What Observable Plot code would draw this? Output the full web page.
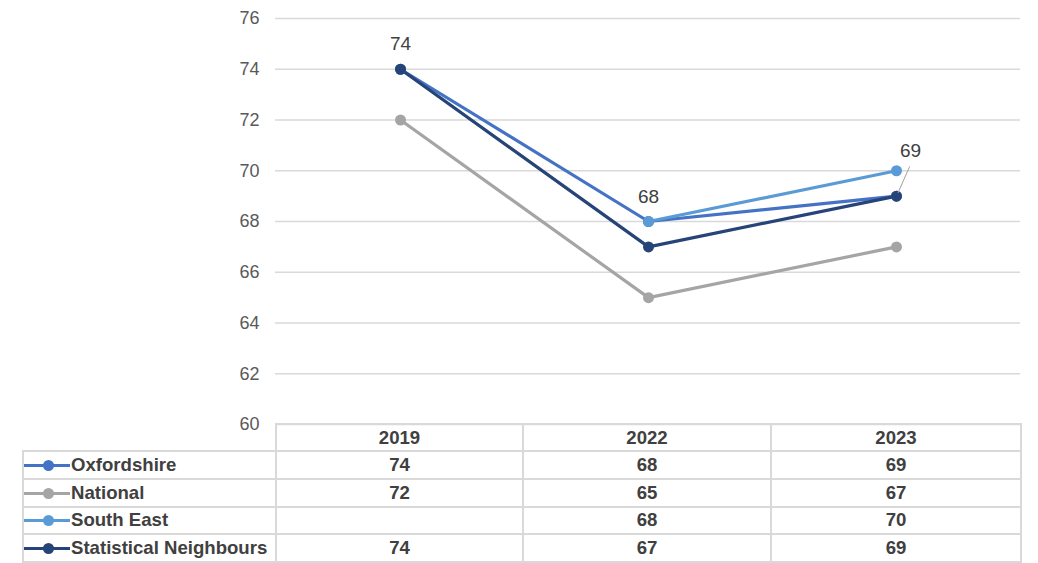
<!DOCTYPE html>
<html><head><meta charset="utf-8">
<script src="https://cdn.jsdelivr.net/npm/d3@7"></script>
<script src="https://cdn.jsdelivr.net/npm/@observablehq/plot@0.6"></script>
<style>
body{margin:0;background:#fff;font-family:"Liberation Sans",Arial,sans-serif;}
#wrap{position:relative;width:1038px;height:563px;overflow:hidden;background:#fff}
#chart{position:absolute;left:0;top:0}
#tbl{position:absolute;left:22px;top:423px;border-collapse:collapse;table-layout:fixed;font-size:18.6px;font-weight:bold;color:#404040;background:transparent}
#tbl td{border:2px solid #d9d9d9;text-align:center;padding:0;white-space:nowrap;overflow:hidden;line-height:20px}
#tbl td.lab{text-align:left}
#tbl td.blank{border:none;border-bottom:2px solid #d9d9d9}
.key{display:inline-block;position:relative;width:46px;height:12px;vertical-align:0px;margin-right:1px}
.key .ln{position:absolute;left:0;right:0;top:5px;height:3px}
.key .dt{position:absolute;left:19px;top:1px;width:11px;height:11px;border-radius:50%}
</style></head>
<body><div id="wrap"><div id="chart"></div><table id="tbl"></table></div>
<script>
const years = ["2019", "2022", "2023"];
const seriesNames = ["Oxfordshire", "National", "South East", "Statistical Neighbours"];
const oxfordshire = [74, 68, 69];
const national = [72, 65, 67];
const southEast = [null, 68, 70];
const statNeighbours = [74, 67, 69];
const colors = ["#4472C4", "#A5A5A5", "#5B9BD5", "#264478"];
const yTicks = [60, 62, 64, 66, 68, 70, 72, 74, 76];

const seriesValues = [oxfordshire, national, southEast, statNeighbours];
const data = [];
seriesNames.forEach((s, i) => years.forEach((y, j) => {
  const v = seriesValues[i][j];
  if (v != null) data.push({series: s, year: y, value: v});
}));
const oxData = data.filter(d => d.series === "Oxfordshire");
const oxLabelsA = oxData.filter(d => d.year !== "2023");
const oxLabelsB = oxData.filter(d => d.year === "2023");

const leader = {draw(context, l, r) { context.moveTo(0, -4); context.lineTo(0, -l); }};

const chart = Plot.plot({
  width: 1038,
  height: 563,
  marginLeft: 275,
  marginRight: 18,
  marginTop: 18,
  marginBottom: 139,
  style: {fontFamily: "'Liberation Sans', Arial, sans-serif", fontSize: "18px", color: "#595959", background: "transparent", overflow: "visible"},
  x: {type: "point", domain: years, padding: 0.5, axis: null},
  y: {domain: [60, 76], ticks: yTicks, tickSize: 0, tickPadding: 16, label: null},
  color: {domain: seriesNames, range: colors},
  marks: [
    Plot.gridY(yTicks, {stroke: "#d9d9d9", strokeOpacity: 1, strokeWidth: 1.5}),
    Plot.axisY(yTicks, {tickSize: 0, tickPadding: 16, fill: "#595959", fontSize: 18, label: null}),
    Plot.line(data, {x: "year", y: "value", z: "series", stroke: "series", strokeWidth: 3.2}),
    Plot.dot(data, {x: "year", y: "value", fill: "series", r: 5.5}),
    Plot.text(oxLabelsA, {x: "year", y: "value", text: d => String(d.value), dy: -25, fill: "#404040", fontSize: 19}),
    Plot.vector(oxLabelsB, {x: "year", y: "value", length: 32, rotate: 24, anchor: "start", shape: leader, stroke: "#A5A5A5", strokeWidth: 1}),
    Plot.text(oxLabelsB, {x: "year", y: "value", text: d => String(d.value), dx: 14, dy: -45, fill: "#404040", fontSize: 19})
  ]
});
document.getElementById("chart").appendChild(chart);

// data table
const tbl = document.getElementById("tbl");
const colW = [253, 247, 248, 250];
const cg = document.createElement("colgroup");
colW.forEach(w => { const c = document.createElement("col"); c.style.width = w + "px"; cg.appendChild(c); });
tbl.appendChild(cg);
const hr = document.createElement("tr");
hr.style.height = "27px";
const blank = document.createElement("td"); blank.className = "blank"; hr.appendChild(blank);
years.forEach(y => { const td = document.createElement("td"); td.textContent = y; hr.appendChild(td); });
tbl.appendChild(hr);
seriesNames.forEach((s, i) => {
  const tr = document.createElement("tr");
  tr.style.height = "27.8px";
  const lab = document.createElement("td"); lab.className = "lab";
  const key = document.createElement("span"); key.className = "key";
  const ln = document.createElement("span"); ln.className = "ln"; ln.style.background = colors[i];
  const dt = document.createElement("span"); dt.className = "dt"; dt.style.background = colors[i];
  key.appendChild(ln); key.appendChild(dt);
  lab.appendChild(key);
  lab.appendChild(document.createTextNode(s));
  tr.appendChild(lab);
  seriesValues[i].forEach(v => { const td = document.createElement("td"); td.textContent = v == null ? "" : String(v); tr.appendChild(td); });
  tbl.appendChild(tr);
});
</script></body></html>
